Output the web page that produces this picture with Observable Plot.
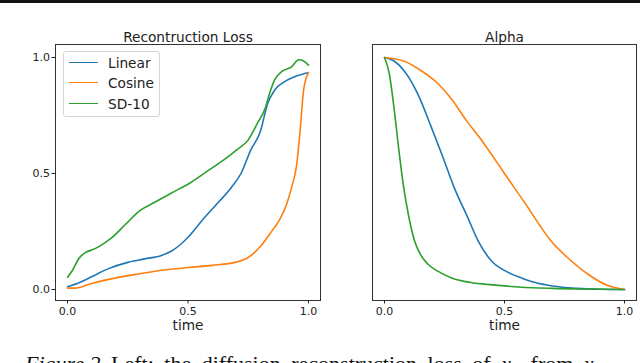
<!DOCTYPE html>
<html>
<head>
<meta charset="utf-8">
<script src="https://cdn.jsdelivr.net/npm/d3@7"></script>
<script src="https://cdn.jsdelivr.net/npm/@observablehq/plot@0.6"></script>
<style>
  body { margin: 0; background: #fff; }
  #wrap { position: relative; width: 640px; height: 363px; overflow: hidden; background: #fff; font-family: "DejaVu Sans", sans-serif; }
  .abs { position: absolute; }
  #rule { left: 0; top: 0; width: 640px; height: 3px; background: #111; }
  #legend { left: 63px; top: 51px; width: 95px; height: 64px; border: 1px solid #d4d4d4; border-radius: 3px; background: rgba(255,255,255,0.8); }
  .lg-line { position: absolute; left: 5px; width: 29px; height: 0; border-top: 1.6px solid; }
  .lg-text { position: absolute; left: 44px; font-size: 13.7px; line-height: 16px; color: #222; white-space: nowrap; }
  #caption { left: 25px; top: 353px; font-family: "Liberation Serif", "Times New Roman", serif; font-size: 22px; line-height: 1; word-spacing: 5px; color: #111; white-space: nowrap; }
  #caption i.fig { word-spacing: 0; }
</style>
</head>
<body>
<div id="wrap">
  <div id="rule" class="abs"></div>
  <div id="p1" class="abs" style="left:0;top:0"></div>
  <div id="p2" class="abs" style="left:322px;top:0"></div>
  <div id="legend" class="abs"></div>
  <div id="caption" class="abs"><i class="fig">Figure 2</i> Left: the diffusion reconstruction loss of <i>x</i><sub>0</sub> from <i>x</i><sub>t</sub></div>
</div>
<script>
// ---- Data: reconstruction loss (left panel) ----
const seriesNames = ["Linear", "Cosine", "SD-10"];
const seriesColors = ["#1f77b4", "#ff7f0e", "#2ca02c"];

const lossLinearT = [0, 0.05, 0.1, 0.17, 0.25, 0.32, 0.39, 0.43, 0.47, 0.5, 0.56, 0.63, 0.68, 0.72, 0.76, 0.8, 0.83, 0.86, 0.9, 0.95, 1.0];
const lossLinearV = [0.012, 0.03, 0.055, 0.09, 0.117, 0.132, 0.147, 0.165, 0.195, 0.225, 0.30, 0.38, 0.44, 0.50, 0.60, 0.68, 0.80, 0.86, 0.895, 0.92, 0.934];

const lossCosineT = [0, 0.03, 0.1, 0.2, 0.3, 0.4, 0.5, 0.6, 0.7, 0.75, 0.8, 0.85, 0.88, 0.91, 0.93, 0.95, 0.965, 0.98, 1.0];
const lossCosineV = [0.006, 0.006, 0.026, 0.05, 0.068, 0.084, 0.095, 0.104, 0.118, 0.138, 0.185, 0.255, 0.30, 0.37, 0.44, 0.53, 0.68, 0.86, 0.935];

const lossSDT = [0, 0.02, 0.047, 0.075, 0.1, 0.13, 0.18, 0.24, 0.30, 0.36, 0.43, 0.51, 0.58, 0.65, 0.7, 0.75, 0.79, 0.82, 0.84, 0.86, 0.89, 0.93, 0.96, 0.98, 1.0];
const lossSDV = [0.053, 0.082, 0.134, 0.16, 0.17, 0.185, 0.22, 0.28, 0.34, 0.375, 0.415, 0.46, 0.51, 0.56, 0.60, 0.645, 0.72, 0.78, 0.85, 0.905, 0.94, 0.96, 0.99, 0.985, 0.967];

// ---- Data: alpha (right panel) ----
const alphaLinearT = [0, 0.04, 0.084, 0.14, 0.195, 0.24, 0.29, 0.347, 0.39, 0.444, 0.513, 0.57, 0.624, 0.7, 0.8, 0.9, 1.0];
const alphaLinearV = [1.0, 0.985, 0.94, 0.84, 0.70, 0.58, 0.44, 0.31, 0.21, 0.125, 0.075, 0.05, 0.031, 0.015, 0.005, 0.001, 0.0];

const alphaCosineT = [0, 0.08, 0.15, 0.22, 0.28, 0.34, 0.4, 0.444, 0.5, 0.54, 0.6, 0.624, 0.693, 0.76, 0.845, 0.93, 1.0];
const alphaCosineV = [1.0, 0.985, 0.945, 0.89, 0.82, 0.73, 0.65, 0.585, 0.50, 0.44, 0.35, 0.312, 0.21, 0.14, 0.068, 0.017, 0.0];

const alphaSDT = [0, 0.02, 0.04, 0.06, 0.08, 0.1, 0.125, 0.15, 0.18, 0.22, 0.28, 0.36, 0.45, 0.57, 0.7, 0.85, 1.0];
const alphaSDV = [1.0, 0.93, 0.78, 0.60, 0.44, 0.32, 0.21, 0.15, 0.11, 0.08, 0.05, 0.03, 0.02, 0.01, 0.005, 0.002, 0.0];

const xTicks = [0, 0.5, 1.0];
const yTicks = [0, 0.5, 1.0];
const xLabel = "time";
const titles = ["Recontruction Loss", "Alpha"];

function table(name, ts, vs) { return ts.map((t, i) => ({series: name, t, v: vs[i]})); }

const lossData = [
  ...table("Linear", lossLinearT, lossLinearV),
  ...table("Cosine", lossCosineT, lossCosineV),
  ...table("SD-10", lossSDT, lossSDV)
];
const alphaData = [
  ...table("Linear", alphaLinearT, alphaLinearV),
  ...table("Cosine", alphaCosineT, alphaCosineV),
  ...table("SD-10", alphaSDT, alphaSDV)
];

const fmt = d3.format(".1f");
const common = {
  height: 340,
  marginTop: 44,
  marginBottom: 40,
  x: {domain: [-0.05, 1.05]},
  y: {domain: [-0.0474, 1.056]},
  color: {domain: seriesNames, range: seriesColors},
  style: {fontFamily: "DejaVu Sans, sans-serif", fontSize: "11px", color: "#222", background: "transparent", overflow: "visible"}
};

function lineMarks(data) {
  return seriesNames.map(name =>
    Plot.line(data.filter(d => d.series === name), {x: "t", y: "v", stroke: "series", strokeWidth: 1.6, curve: "monotone-x"})
  );
}

function labels(title) {
  return [
    Plot.text([title], {text: d => d, frameAnchor: "top", lineAnchor: "middle", dy: -7, fontSize: 13.7, fill: "#222"}),
    Plot.text([xLabel], {text: d => d, frameAnchor: "bottom", lineAnchor: "middle", dy: 25, fontSize: 13.7, fill: "#222"})
  ];
}

const p1 = Plot.plot({
  ...common,
  width: 322,
  marginLeft: 55,
  marginRight: 2,
  marks: [
    ...lineMarks(lossData),
    Plot.frame({stroke: "#333", strokeWidth: 1}),
    Plot.axisX({ticks: xTicks, tickFormat: fmt, tickSize: 3.5, tickPadding: 3, fontSize: 11, label: null}),
    Plot.axisY({ticks: yTicks, tickFormat: fmt, tickSize: 3.5, tickPadding: 2, fontSize: 11, label: null}),
    ...labels(titles[0])
  ]
});

const p2 = Plot.plot({
  ...common,
  width: 318,
  marginLeft: 50,
  marginRight: 4,
  y: {domain: [-0.0474, 1.056], axis: null},
  marks: [
    ...lineMarks(alphaData),
    Plot.frame({stroke: "#333", strokeWidth: 1}),
    Plot.axisX({ticks: xTicks, tickFormat: fmt, tickSize: 3.5, tickPadding: 3, fontSize: 11, label: null}),
    ...labels(titles[1])
  ]
});

document.getElementById("p1").appendChild(p1);
document.getElementById("p2").appendChild(p2);

// legend
const lg = document.getElementById("legend");
seriesNames.forEach((name, i) => {
  const cy = 10.5 + i * 20.5;
  const ln = document.createElement("div");
  ln.className = "lg-line";
  ln.style.top = (cy - 0.8) + "px";
  ln.style.borderTopColor = seriesColors[i];
  lg.appendChild(ln);
  const tx = document.createElement("div");
  tx.className = "lg-text";
  tx.style.top = (cy - 8) + "px";
  tx.textContent = name;
  lg.appendChild(tx);
});
</script>
</body>
</html>
